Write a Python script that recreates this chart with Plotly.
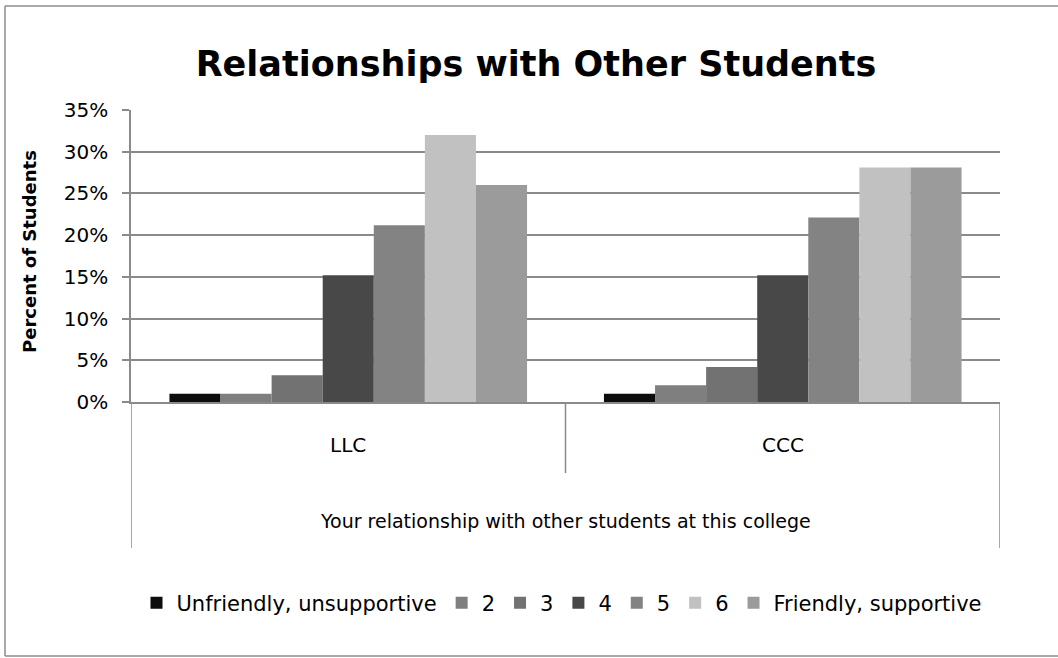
import plotly.graph_objects as go

categories = ["LLC", "CCC"]
series_names = ["Unfriendly, unsupportive", "2", "3", "4", "5", "6", "Friendly, supportive"]
values = {
    "Unfriendly, unsupportive": [0.01, 0.01],
    "2": [0.01, 0.02],
    "3": [0.032, 0.042],
    "4": [0.152, 0.152],
    "5": [0.212, 0.221],
    "6": [0.32, 0.281],
    "Friendly, supportive": [0.26, 0.281],
}
colors = ["#0d0d0d", "#7f7f7f", "#727272", "#484848", "#838383", "#c1c1c1", "#9b9b9b"]
y_ticks = [0, 0.05, 0.10, 0.15, 0.20, 0.25, 0.30, 0.35]

title_text = "Relationships with Other Students"
y_title = "Percent of Students"
x_title = "Your relationship with other students at this college"

FONT = "DejaVu Sans, sans-serif"
GRID = "#8a8a8a"
FRAME = "#8c8c8c"

fig = go.Figure()
for name, col in zip(series_names, colors):
    fig.add_trace(go.Bar(
        x=categories, y=values[name], name=name,
        marker=dict(color=col, line=dict(width=0)),
    ))

# plot area: x 131..1000, y 110..402 in a 1058x658 canvas
L, R, T, B = 131, 58, 110, 256
W, H = 1058 - L - R, 658 - T - B


def px(xp):
    return (xp - L) / W


def py(yp):
    return (658 - B - yp) / H


shapes = []
# outer chart frame: left, top, bottom edges (right edge is off-canvas)
for (xa, ya, xb, yb) in [(5, 6, 5, 656), (5, 6, 1058, 6), (5, 656, 1058, 656)]:
    shapes.append(dict(type="line", xref="paper", yref="paper",
                       x0=px(xa), y0=py(ya), x1=px(xb), y1=py(yb),
                       line=dict(color=FRAME, width=1.5), layer="below"))
# category separators
shapes.append(dict(type="line", xref="x", yref="paper", x0=-0.5, x1=-0.5,
                   y0=0, y1=py(548), line=dict(color=GRID, width=1.5)))
shapes.append(dict(type="line", xref="x", yref="paper", x0=1.5, x1=1.5,
                   y0=0, y1=py(548), line=dict(color=GRID, width=1.5)))
shapes.append(dict(type="line", xref="x", yref="paper", x0=0.5, x1=0.5,
                   y0=0, y1=py(473), line=dict(color=GRID, width=1.5)))

annotations = []
for c in categories:
    annotations.append(dict(x=c, y=py(445), xref="x", yref="paper", text=c,
                            showarrow=False, font=dict(family=FONT, size=20, color="#000"),
                            xanchor="center", yanchor="middle"))
annotations.append(dict(x=0.5, y=py(521), xref="paper", yref="paper", text=x_title,
                        showarrow=False, font=dict(family=FONT, size=19, color="#000"),
                        xanchor="center", yanchor="middle"))
annotations.append(dict(x=px(30), y=py(252), xref="paper", yref="paper",
                        text="<b>" + y_title + "</b>",
                        showarrow=False, textangle=-90,
                        font=dict(family=FONT, size=18, color="#000"),
                        xanchor="center", yanchor="middle"))

fig.update_layout(
    width=1058, height=658,
    margin=dict(l=L, r=R, t=T, b=B, pad=0),
    paper_bgcolor="white", plot_bgcolor="white",
    title=dict(text="<b>" + title_text + "</b>", x=536 / 1058,
               xanchor="center", y=1 - 64 / 658, yanchor="middle",
               font=dict(family=FONT, size=35, color="#000")),
    barmode="group", bargap=0.177, bargroupgap=0,
    font=dict(family=FONT, size=20, color="#000"),
    showlegend=True,
    legend=dict(orientation="h", x=px(562), xanchor="center", y=py(603), yanchor="middle",
                font=dict(family=FONT, size=21, color="#000"),
                itemwidth=30, tracegroupgap=0, bgcolor="rgba(0,0,0,0)"),
    shapes=shapes,
    annotations=annotations,
)
fig.update_xaxes(
    type="category", range=[-0.5, 1.5], showticklabels=False, ticks="",
    showline=True, linecolor=GRID, linewidth=1.5, showgrid=False, zeroline=False,
)
fig.update_yaxes(
    range=[0, 0.35], tickvals=y_ticks, tickformat=".0%",
    showgrid=True, gridcolor=GRID, gridwidth=1.5,
    showline=True, linecolor=GRID, linewidth=1.5,
    ticks="outside", ticklen=7, tickcolor=GRID, tickwidth=1.5,
    zeroline=False, ticklabelstandoff=10,
    tickfont=dict(family=FONT, size=20, color="#000"),
)

fig.write_html("out.html", config={"displayModeBar": False},
               post_script="document.body.style.margin='0';")
